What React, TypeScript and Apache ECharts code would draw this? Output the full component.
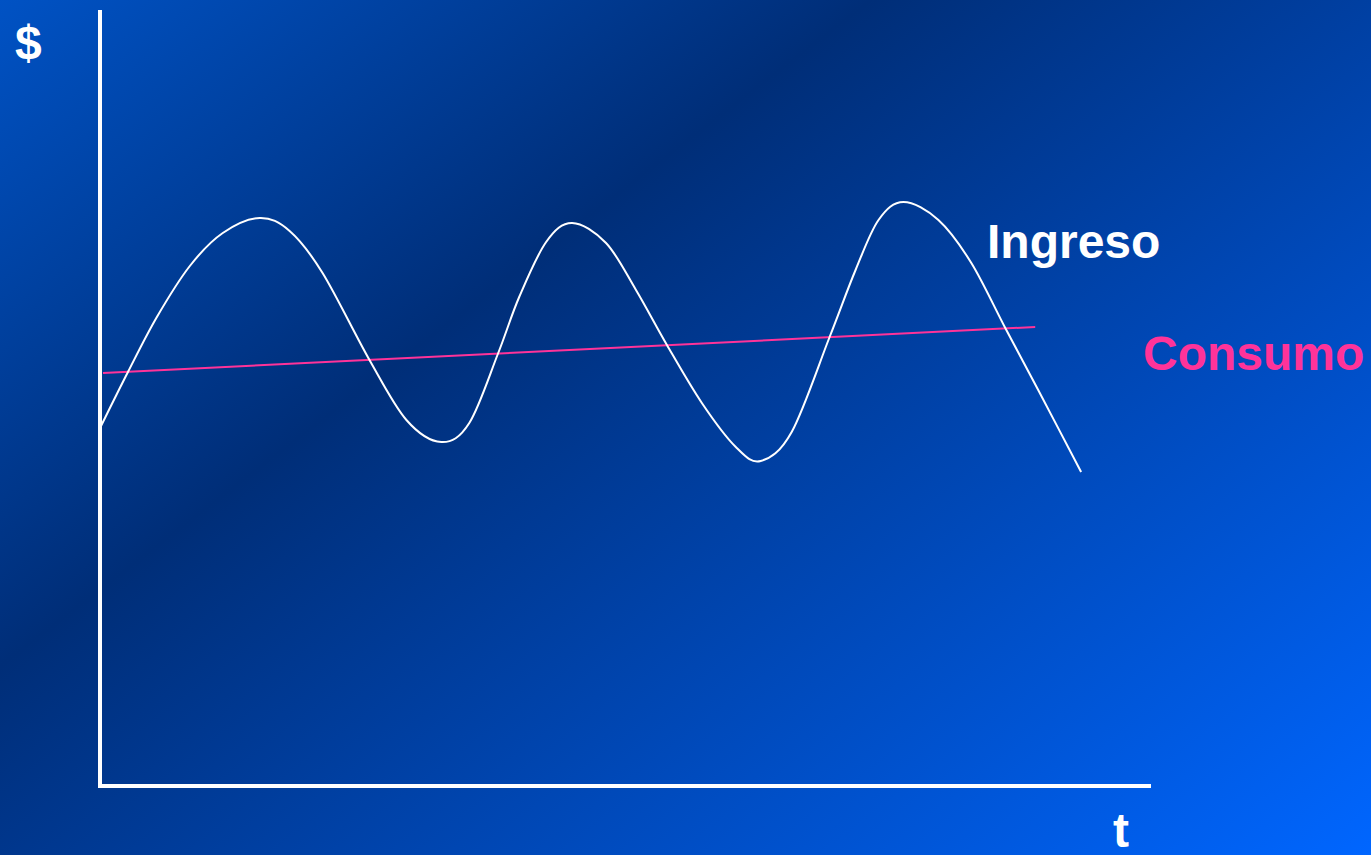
import React, { useEffect, useRef } from "react";
import * as echarts from "echarts";

// Ingreso (income) curve: [t, $] points
const ingresoT = [0, 0.28, 0.57, 0.9, 1.23, 1.6, 1.9, 2.23, 2.7, 3.07, 3.42, 3.7, 3.99, 4.2, 4.47, 4.73, 5.07, 5.37, 5.68, 6.03, 6.37, 6.62, 6.93, 7.31, 7.57, 7.8, 8.05, 8.4, 8.73, 9.07, 9.4, 9.83];
const ingresoV = [3.58, 4.14, 4.69, 5.2, 5.53, 5.68, 5.55, 5.13, 4.26, 3.66, 3.44, 3.63, 4.33, 4.89, 5.44, 5.63, 5.43, 4.96, 4.41, 3.83, 3.39, 3.25, 3.54, 4.49, 5.16, 5.66, 5.84, 5.66, 5.23, 4.58, 3.96, 3.14];

// Consumo (consumption) straight trend line
const consumoT = [0.03, 9.37];
const consumoV = [4.13, 4.59];

const axisMaxT = 10.51;
const axisMaxV = 7.74;

const FONT = '"Liberation Sans", Arial, sans-serif';

export default function App() {
  const ref = useRef<HTMLDivElement>(null);

  useEffect(() => {
    document.body.style.margin = "0";
    if (!ref.current) return;
    const chart = echarts.init(ref.current, undefined, { renderer: "svg" });
    const textStyle = (text: string, fill: string) => ({
      text,
      fill,
      font: `bold 48px ${FONT}`,
      verticalAlign: "middle",
      align: "left",
    });

    // smooth curve (Catmull-Rom) through the data points, positioned by the axes
    const renderIngreso = (params: any, api: any) => {
      if (params.dataIndex !== 0) return null;
      const pts = ingresoT.map((t, i) => api.coord([t, ingresoV[i]]) as number[]);
      let d = `M${pts[0][0]},${pts[0][1]}`;
      for (let i = 0; i < pts.length - 1; i++) {
        const p0 = pts[i - 1] || pts[i];
        const p1 = pts[i];
        const p2 = pts[i + 1];
        const p3 = pts[i + 2] || pts[i + 1];
        const c1x = p1[0] + (p2[0] - p0[0]) / 6;
        const c1y = p1[1] + (p2[1] - p0[1]) / 6;
        const c2x = p2[0] - (p3[0] - p1[0]) / 6;
        const c2y = p2[1] - (p3[1] - p1[1]) / 6;
        d += ` C${c1x},${c1y} ${c2x},${c2y} ${p2[0]},${p2[1]}`;
      }
      return {
        type: "path",
        shape: { pathData: d },
        style: { fill: "none", stroke: "#ffffff", lineWidth: 2 },
      };
    };

    chart.setOption({
      animation: false,
      grid: { left: 100, top: 12, right: 222, bottom: 69, containLabel: false },
      xAxis: {
        type: "value",
        min: 0,
        max: axisMaxT,
        axisLine: { show: true, lineStyle: { color: "#ffffff", width: 4, cap: "square" } },
        axisTick: { show: false },
        axisLabel: { show: false },
        splitLine: { show: false },
      },
      yAxis: {
        type: "value",
        min: 0,
        max: axisMaxV,
        axisLine: { show: true, lineStyle: { color: "#ffffff", width: 4, cap: "square" } },
        axisTick: { show: false },
        axisLabel: { show: false },
        splitLine: { show: false },
      },
      series: [
        {
          name: "Consumo",
          type: "line",
          data: consumoT.map((t, i) => [t, consumoV[i]]),
          symbol: "none",
          lineStyle: { color: "#ff3399", width: 2 },
          z: 3,
        },
        {
          name: "Ingreso",
          type: "custom",
          data: ingresoT.map((t, i) => [t, ingresoV[i]]),
          renderItem: renderIngreso,
          z: 4,
          silent: true,
        },
      ],
      graphic: [
        {
          type: "rect",
          z: -100,
          silent: true,
          shape: { x: 0, y: 0, width: 1371, height: 855 },
          style: {
            fill: new echarts.graphic.LinearGradient(
              0,
              0,
              918,
              1201,
              [
                { offset: 0, color: "#0052c4" },
                { offset: 0.35, color: "#002e78" },
                { offset: 1, color: "#0066ff" },
              ],
              true
            ),
          },
        },
        { type: "text", x: 15, y: 42, style: textStyle("$", "#ffffff") },
        { type: "text", x: 1113, y: 830, style: textStyle("t", "#ffffff") },
        { type: "text", x: 987, y: 241, style: textStyle("Ingreso", "#ffffff") },
        { type: "text", x: 1143, y: 353, style: textStyle("Consumo", "#ff3399") },
      ],
    });
    return () => chart.dispose();
  }, []);

  return <div ref={ref} style={{ width: 1371, height: 855 }} />;
}
